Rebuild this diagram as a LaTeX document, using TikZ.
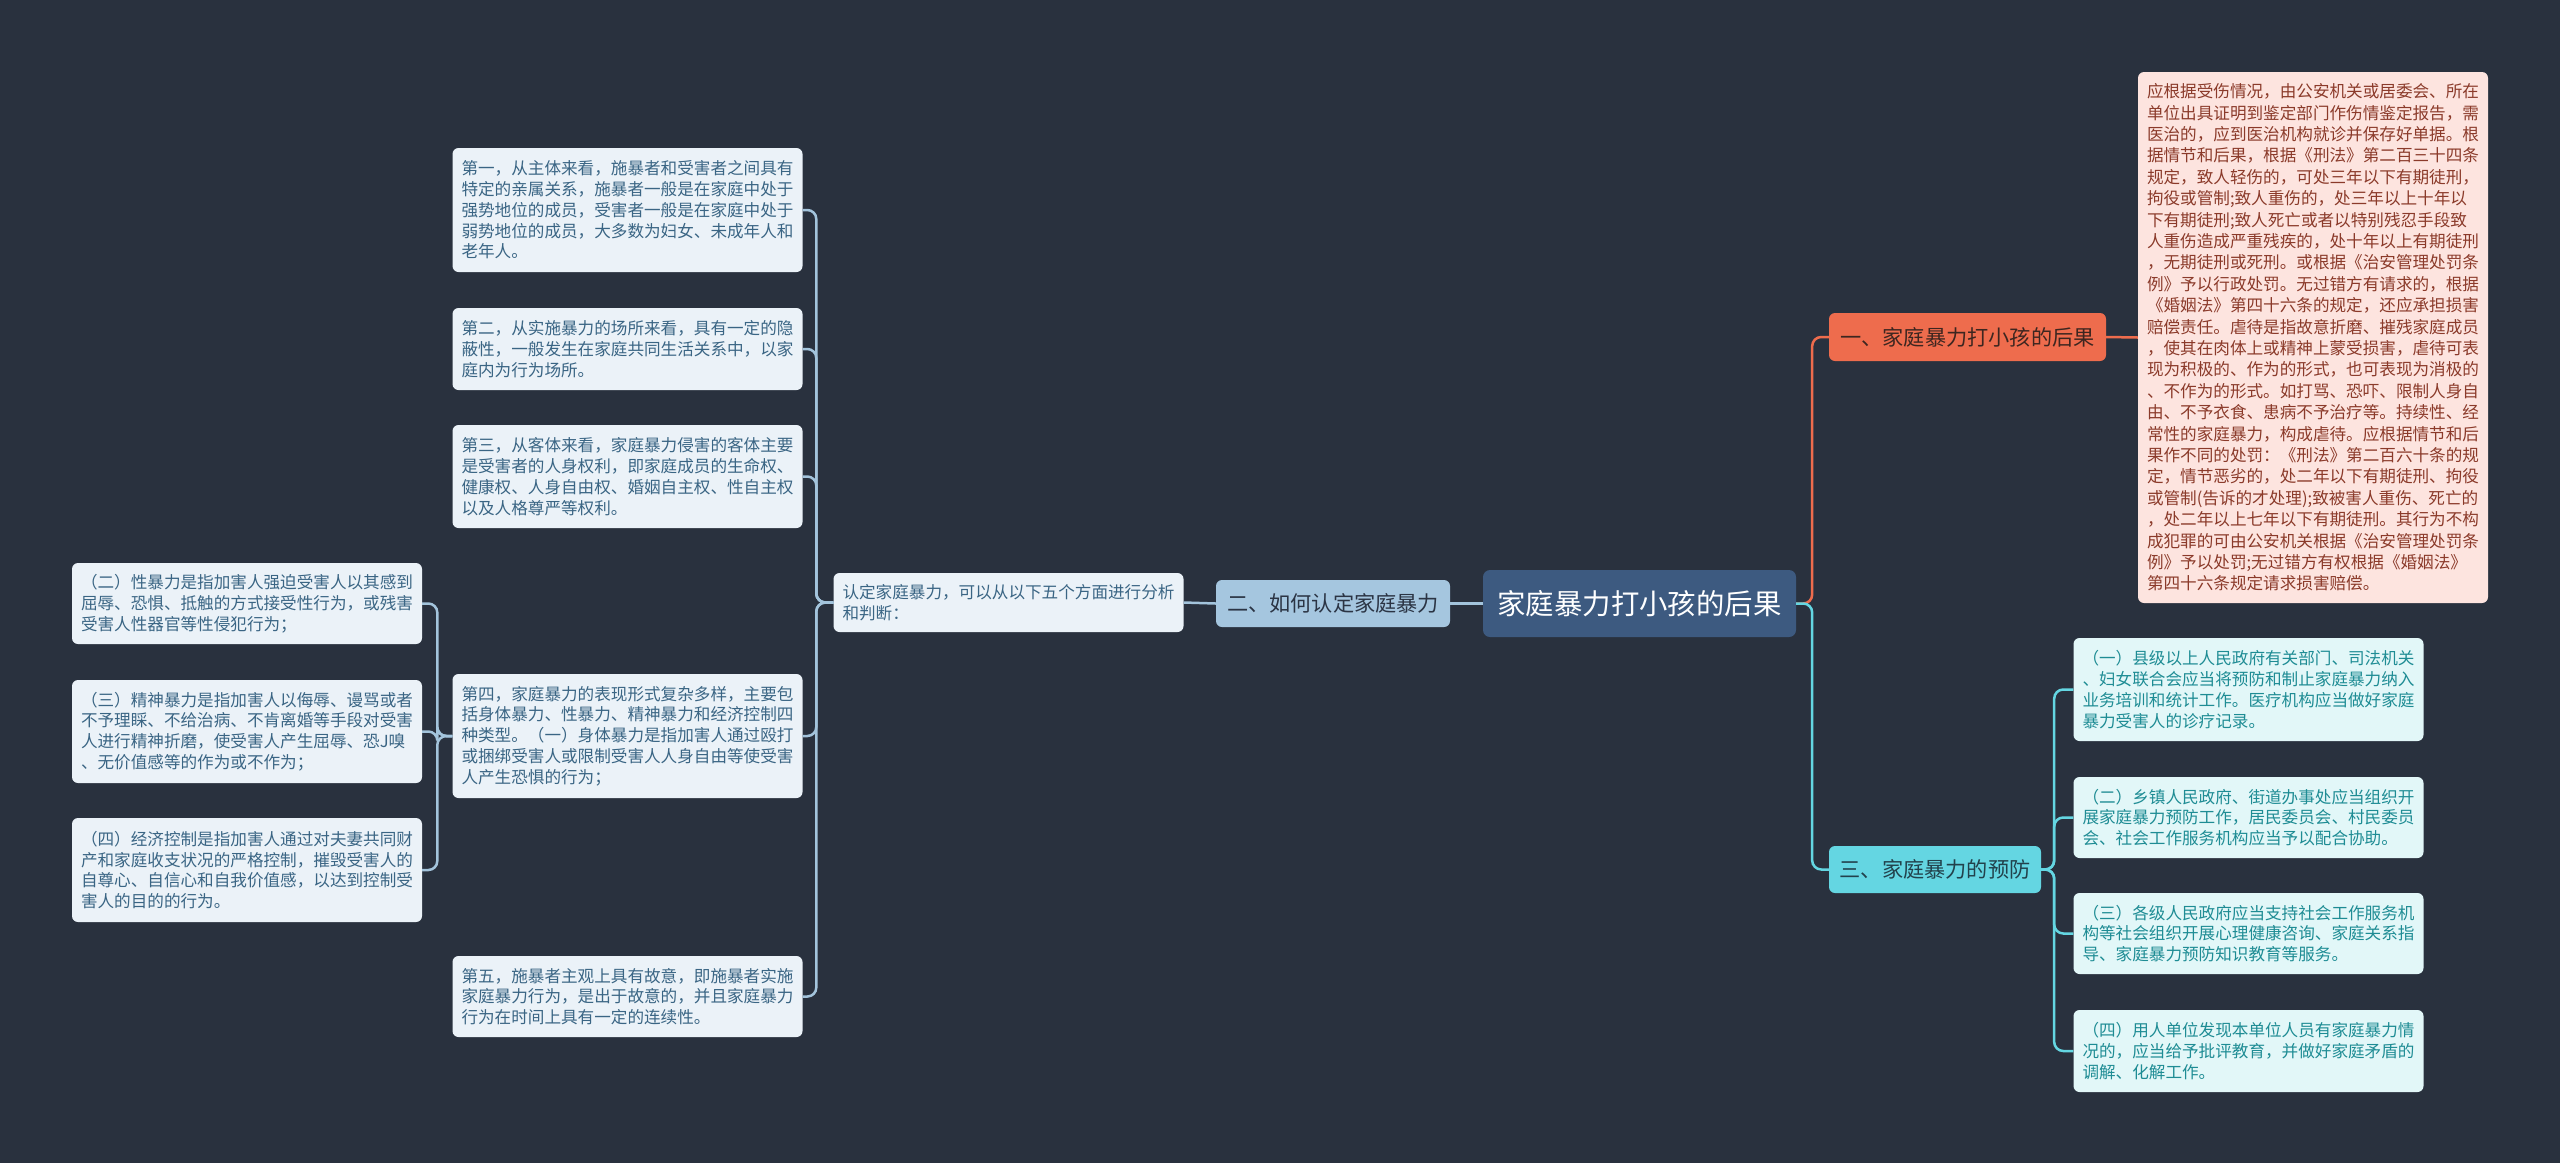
\documentclass[tikz,border=0pt]{standalone}
\usepackage{fontspec}
\setmainfont{Noto Sans CJK SC}
\definecolor{bgc}{HTML}{29313E}
\definecolor{cenfill}{HTML}{3D5A80}
\definecolor{bluefill}{HTML}{A5C6DF}
\definecolor{bluetxt}{HTML}{2B3444}
\definecolor{blueline}{HTML}{A3C4DC}
\definecolor{ltfill}{HTML}{EBF2F8}
\definecolor{lttxt}{HTML}{3A6584}
\definecolor{redfill}{HTML}{EE6C4D}
\definecolor{redtxt}{HTML}{3D2620}
\definecolor{rdfill}{HTML}{FDE4DF}
\definecolor{rdtxt}{HTML}{8B3A2A}
\definecolor{cyfill}{HTML}{64D6E2}
\definecolor{cytxt}{HTML}{22424C}
\definecolor{cdfill}{HTML}{E2F7F8}
\definecolor{cdtxt}{HTML}{1E8C94}
\tikzset{
  detail/.style={rounded corners=6pt, text width=332pt, inner xsep=9pt, inner ysep=0pt, align=left,
     font=\fontsize{16.6pt}{20.8pt}\selectfont},
  leftbox/.style={detail, fill=ltfill, text=lttxt},
  redbox/.style={detail, fill=rdfill, text=rdtxt, font=\fontsize{16.6pt}{21.4pt}\selectfont},
  cybox/.style={detail, fill=cdfill, text=cdtxt},
  lvone/.style={rounded corners=6pt, inner sep=0pt, font=\fontsize{21.2pt}{24pt}\selectfont, minimum height=47pt},
  conn/.style={line width=2.5pt, rounded corners=9pt},
}
\begin{document}
\begin{tikzpicture}[x=1pt,y=-1pt]
\fill[bgc] (0,0) rectangle (2560,1163);
\useasboundingbox (0,0) rectangle (2560,1163);

% central
\node[rounded corners=7pt, fill=cenfill, text=white, inner sep=0pt, minimum width=313pt, minimum height=67pt,
      font=\fontsize{28.4pt}{32pt}\selectfont] (cen) at (1639.5,603.5) {家庭暴力打小孩的后果};

% left branch
\node[lvone, fill=bluefill, text=bluetxt, minimum width=234pt] (two) at (1333,603.5) {二、如何认定家庭暴力};
\node[leftbox, minimum height=59pt] (rd) at (1008.5,602.5) {认定家庭暴力，可以从以下五个方面进行分析\\和判断：};

\node[leftbox, minimum height=124pt] (b1) at (627.5,210) {第一，从主体来看，施暴者和受害者之间具有\\特定的亲属关系，施暴者一般是在家庭中处于\\强势地位的成员，受害者一般是在家庭中处于\\弱势地位的成员，大多数为妇女、未成年人和\\老年人。};
\node[leftbox, minimum height=82pt] (b2) at (627.5,349) {第二，从实施暴力的场所来看，具有一定的隐\\蔽性，一般发生在家庭共同生活关系中，以家\\庭内为行为场所。};
\node[leftbox, minimum height=103pt] (b3) at (627.5,476.5) {第三，从客体来看，家庭暴力侵害的客体主要\\是受害者的人身权利，即家庭成员的生命权、\\健康权、人身自由权、婚姻自主权、性自主权\\以及人格尊严等权利。};
\node[leftbox, minimum height=124pt] (b4) at (627.5,736) {第四，家庭暴力的表现形式复杂多样，主要包\\括身体暴力、性暴力、精神暴力和经济控制四\\种类型。（一）身体暴力是指加害人通过殴打\\或捆绑受害人或限制受害人人身自由等使受害\\人产生恐惧的行为；};
\node[leftbox, minimum height=81pt] (b5) at (627.5,996.5) {第五，施暴者主观上具有故意，即施暴者实施\\家庭暴力行为，是出于故意的，并且家庭暴力\\行为在时间上具有一定的连续性。};

\node[leftbox, minimum height=81pt] (ba) at (247,603.5) {（二）性暴力是指加害人强迫受害人以其感到\\屈辱、恐惧、抵触的方式接受性行为，或残害\\受害人性器官等性侵犯行为；};
\node[leftbox, minimum height=103pt] (bb) at (247,731.5) {（三）精神暴力是指加害人以侮辱、谩骂或者\\不予理睬、不给治病、不肯离婚等手段对受害\\人进行精神折磨，使受害人产生屈辱、恐J嗅\\、无价值感等的作为或不作为；};
\node[leftbox, minimum height=104pt] (bc) at (247,870) {（四）经济控制是指加害人通过对夫妻共同财\\产和家庭收支状况的严格控制，摧毁受害人的\\自尊心、自信心和自我价值感，以达到控制受\\害人的目的的行为。};

% right branch
\node[lvone, fill=redfill, text=redtxt, minimum width=277pt, minimum height=48pt] (r1) at (1967.5,337) {一、家庭暴力打小孩的后果};
\node[redbox, minimum height=531pt] (rdt) at (2313,337.5) {应根据受伤情况，由公安机关或居委会、所在\\单位出具证明到鉴定部门作伤情鉴定报告，需\\医治的，应到医治机构就诊并保存好单据。根\\据情节和后果，根据《刑法》第二百三十四条\\规定，致人轻伤的，可处三年以下有期徒刑，\\拘役或管制;致人重伤的，处三年以上十年以\\下有期徒刑;致人死亡或者以特别残忍手段致\\人重伤造成严重残疾的，处十年以上有期徒刑\\，无期徒刑或死刑。或根据《治安管理处罚条\\例》予以行政处罚。无过错方有请求的，根据\\《婚姻法》第四十六条的规定，还应承担损害\\赔偿责任。虐待是指故意折磨、摧残家庭成员\\，使其在肉体上或精神上蒙受损害，虐待可表\\现为积极的、作为的形式，也可表现为消极的\\、不作为的形式。如打骂、恐吓、限制人身自\\由、不予衣食、患病不予治疗等。持续性、经\\常性的家庭暴力，构成虐待。应根据情节和后\\果作不同的处罚：《刑法》第二百六十条的规\\定，情节恶劣的，处二年以下有期徒刑、拘役\\或管制(告诉的才处理);致被害人重伤、死亡的\\，处二年以上七年以下有期徒刑。其行为不构\\成犯罪的可由公安机关根据《治安管理处罚条\\例》予以处罚;无过错方有权根据《婚姻法》\\第四十六条规定请求损害赔偿。};

\node[lvone, fill=cyfill, text=cytxt, minimum width=212pt] (p) at (1935,869.5) {三、家庭暴力的预防};
\node[cybox, minimum height=103pt] (p1) at (2248.5,689.5) {（一）县级以上人民政府有关部门、司法机关\\、妇女联合会应当将预防和制止家庭暴力纳入\\业务培训和统计工作。医疗机构应当做好家庭\\暴力受害人的诊疗记录。};
\node[cybox, minimum height=81pt] (p2) at (2248.5,817.5) {（二）乡镇人民政府、街道办事处应当组织开\\展家庭暴力预防工作，居民委员会、村民委员\\会、社会工作服务机构应当予以配合协助。};
\node[cybox, minimum height=81pt] (p3) at (2248.5,933.5) {（三）各级人民政府应当支持社会工作服务机\\构等社会组织开展心理健康咨询、家庭关系指\\导、家庭暴力预防知识教育等服务。};
\node[cybox, minimum height=82pt] (p4) at (2248.5,1051) {（四）用人单位发现本单位人员有家庭暴力情\\况的，应当给予批评教育，并做好家庭矛盾的\\调解、化解工作。};

% connectors
\begin{scope}[on background layer/.try]
\end{scope}
\draw[conn, blueline] (cen.west) -- (two.east);
\draw[conn, blueline] (two.west) -- (rd.east);
\foreach \c in {b1,b2,b3,b4,b5}
  \draw[conn, blueline] (rd.west) -- ++(-17,0) |- (\c.east);
\foreach \c in {ba,bb,bc}
  \draw[conn, blueline] (b4.west) -- ++(-15,0) |- (\c.east);
\draw[conn, redfill] (cen.east) -- ++(16,0) |- (r1.west);
\draw[conn, redfill] (r1.east) -- (rdt.west);
\draw[conn, cyfill] (cen.east) -- ++(16,0) |- (p.west);
\foreach \c in {p1,p2,p3,p4}
  \draw[conn, cyfill] (p.east) -- ++(13,0) |- (\c.west);
\end{tikzpicture}
\end{document}
